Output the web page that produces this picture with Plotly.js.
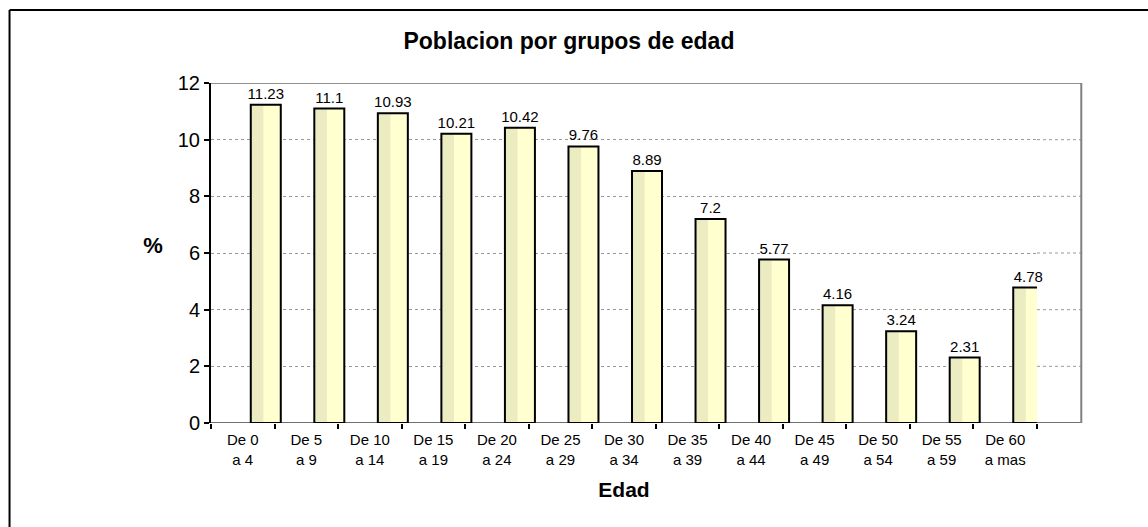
<!DOCTYPE html>
<html>
<head>
<meta charset="utf-8">
<script src="https://cdn.plot.ly/plotly-3.0.1.min.js"></script>
<style>
  html, body { margin: 0; padding: 0; background: #fff; }
  #chart { width: 1148px; height: 527px; }
</style>
</head>
<body>
<div id="chart"></div>
<script>
// ---- data ----
var categories = ['De 0<br>a 4', 'De 5<br>a 9', 'De 10<br>a 14', 'De 15<br>a 19', 'De 20<br>a 24',
                  'De 25<br>a 29', 'De 30<br>a 34', 'De 35<br>a 39', 'De 40<br>a 44', 'De 45<br>a 49',
                  'De 50<br>a 54', 'De 55<br>a 59', 'De 60<br>a mas'];
var values = [11.23, 11.1, 10.93, 10.21, 10.42, 9.76, 8.89, 7.2, 5.77, 4.16, 3.24, 2.31, 4.78];
var yTicks = [0, 2, 4, 6, 8, 10, 12];
var titleText = 'Poblacion por grupos de edad';
var xTitle = 'Edad';
var yTitle = '%';

// ---- styling ----
var FONT = 'Liberation Sans, Arial, sans-serif';
var barOffset = 0.126, barWidth = 0.472;
var depth = 1.0536; // right wall position (paper units) to mimic 3D back wall

var fillTrace = {
  type: 'bar', x: categories, y: values,
  offset: barOffset, width: barWidth,
  marker: { color: '#ffffd0', line: { width: 0 } },
  hoverinfo: 'skip', showlegend: false
};
var shadeTrace = {
  type: 'bar', x: categories, y: values,
  offset: barOffset, width: barWidth * 0.42,
  marker: { color: '#ececc2', line: { width: 0 } },
  hoverinfo: 'skip', showlegend: false
};
var outlineTrace = {
  type: 'bar', x: categories, y: values,
  offset: barOffset, width: barWidth,
  marker: { color: 'rgba(0,0,0,0)', line: { color: '#000', width: 2 } },
  text: values.map(String), textposition: 'outside', cliponaxis: false,
  constraintext: 'none',
  textfont: { family: FONT, size: 15, color: '#000' },
  showlegend: false, name: '%'
};

var shapes = [];
// gridline extensions into 3D depth area
yTicks.slice(1, -1).forEach(function (v) {
  shapes.push({ type: 'line', xref: 'paper', yref: 'y', x0: 1, x1: depth, y0: v, y1: v,
                line: { color: '#999', width: 1, dash: 'dot' }, layer: 'below' });
});
// back wall top, floor, right wall
shapes.push({ type: 'line', xref: 'paper', yref: 'y', x0: 0, x1: depth, y0: 12, y1: 12,
              line: { color: '#909090', width: 2 } });
shapes.push({ type: 'line', xref: 'paper', yref: 'y', x0: 0, x1: depth, y0: 0, y1: 0,
              line: { color: '#707070', width: 2 }, layer: 'below' });
shapes.push({ type: 'line', xref: 'paper', yref: 'y', x0: depth, x1: depth, y0: 0, y1: 12,
              line: { color: '#808080', width: 2 } });
// outer chart border (only left and top edges fall inside the picture)
shapes.push({ type: 'line', xref: 'paper', yref: 'paper', x0: -0.2439, x1: -0.2439, y0: -0.4, y1: 1.2147,
              line: { color: '#000', width: 2 } });
shapes.push({ type: 'line', xref: 'paper', yref: 'paper', x0: -0.2439, x1: 1.3, y0: 1.2147, y1: 1.2147,
              line: { color: '#000', width: 2 } });

var layout = {
  width: 1148, height: 527,
  margin: { l: 211, r: 111, t: 83, b: 104 },
  paper_bgcolor: '#fff', plot_bgcolor: '#fff',
  barmode: 'overlay',
  font: { family: FONT, color: '#000' },
  title: { text: '<b>' + titleText + '</b>', xref: 'container', yref: 'container',
           x: 0.4956, xanchor: 'center', y: 0.922, yanchor: 'middle',
           font: { family: FONT, size: 23, color: '#000' } },
  xaxis: {
    type: 'category', range: [-0.5, 12.5],
    showline: false, showgrid: false, zeroline: false,
    ticks: 'outside', tickson: 'boundaries', ticklen: 5, tickwidth: 2, tickcolor: '#000',
    tickfont: { family: FONT, size: 15, color: '#000' },
    ticklabelstandoff: 6,
    tickangle: 0,
    title: { text: '<b>' + xTitle + '</b>', standoff: 15, font: { family: FONT, size: 21, color: '#000' } }
  },
  yaxis: {
    range: [0, 12], tickvals: yTicks, ticktext: yTicks.map(String),
    showline: true, linecolor: '#000', linewidth: 2, mirror: false,
    ticks: 'outside', ticklen: 5, tickwidth: 2, tickcolor: '#000',
    tickfont: { family: FONT, size: 20, color: '#000' },
    showgrid: true, gridcolor: '#999', gridwidth: 1, griddash: 'dot',
    zeroline: false,
    title: { text: '<b>' + yTitle + '</b>', standoff: 18, font: { family: FONT, size: 22, color: '#000' } }
  },
  shapes: shapes
};

Plotly.newPlot('chart', [fillTrace, shadeTrace, outlineTrace], layout, { staticPlot: true, displayModeBar: false })
  .then(function (gd) {
    // keep the "%" axis title horizontal, as in the original
    var t = gd.querySelector('.g-ytitle text');
    if (t) { t.removeAttribute('transform'); }
  });
</script>
</body>
</html>
